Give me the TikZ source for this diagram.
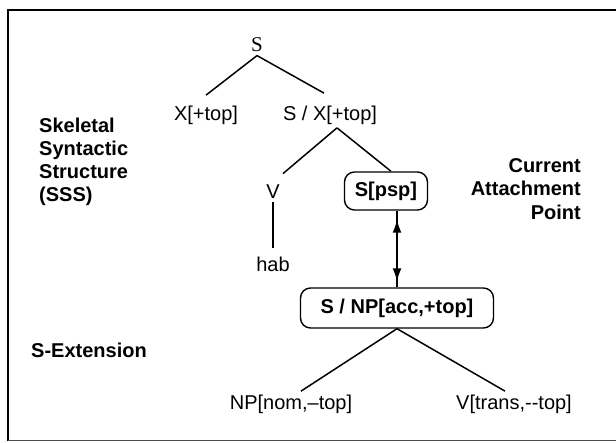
\documentclass[tikz,border=0pt]{standalone}
\usepackage{fontspec}
\setmainfont{Liberation Sans}
\newfontfamily\rootfont{Liberation Serif}
\usetikzlibrary{arrows.meta}

\begin{document}
\begin{tikzpicture}[x=1pt,y=-1pt,
	cat/.style={font=\fontsize{20}{24}\selectfont},
	note/.style={font=\fontsize{20}{23}\selectfont\bfseries, inner sep=0pt},
	catbox/.style={draw, line width=1.4pt, rounded corners=10pt, inner sep=0pt, font=\fontsize{20}{24}\selectfont\bfseries},
	branch/.style={line width=1.5pt},
	attach/.style={line width=2.6pt}]
	\useasboundingbox (0,0) rectangle (616,443);
	
	%FRAME
	\draw[line width=2pt] (616,10) -- (8,10) -- (8,441);
	\draw[line width=1pt, black!70] (8,441) -- (616,441);
	
	%SKELETAL STRUCTURE
	\node[cat, font=\rootfont\fontsize{21}{24}\selectfont] (s) at (257,45) {S};
	\node[cat] (xtop) at (206,115) {X[+top]};
	\node[cat] (sx) at (330,115) {S / X[+top]};
	\node[cat] (v) at (273,192) {V};
	\node[cat] (hab) at (273,264) {hab};
	\node[catbox, minimum width=83pt, minimum height=38pt] (spsp) at (386,191) {S[psp]};
	
	%EXTENSION
	\node[catbox, minimum width=193pt, minimum height=40pt] (snp) at (397,308) {S / NP[acc,+top]};
	\node[cat] (np) at (291,404) {NP[nom,--top]};
	\node[cat] (vt) at (514,404) {V[trans,-{}-top]};
	
	%SIDE NOTES
	\node[note, align=left, anchor=north west] (sss) at (39,118) {Skeletal\\Syntactic\\Structure\\(SSS)};
	\node[note, align=right, anchor=north east, font=\fontsize{20}{23.5}\selectfont\bfseries] (cap) at (581,158) {Current\\Attachment\\Point};
	\node[note, anchor=west] (sext) at (31,350) {S-Extension};
	
	%BRANCHES
	\draw[branch] (s.south) -- ([yshift=7pt]xtop.north);
	\draw[branch] (s.south) -- ([xshift=-6pt,yshift=9pt]sx.north);
	\draw[branch] ([xshift=7pt]sx.south) -- ([xshift=10pt,yshift=8pt]v.north);
	\draw[branch] ([xshift=7pt]sx.south) -- ([xshift=5pt]spsp.north);
	\draw[branch] (v.south) -- ([yshift=5pt]hab.north);
	\draw[branch] (snp.south) -- ([xshift=10pt]np.north);
	\draw[branch] (snp.south) -- ([xshift=-9pt]vt.north);
	
	%ATTACHMENT ARROW
	\draw[attach] (spsp.south -| snp.north) -- (snp.north);
	\draw[attach, {Latex[length=14pt,width=9pt]}-{Latex[length=14pt,width=9pt]}, shorten <=8pt, shorten >=5pt] (spsp.south -| snp.north) -- (snp.north);
\end{tikzpicture}
\end{document}
